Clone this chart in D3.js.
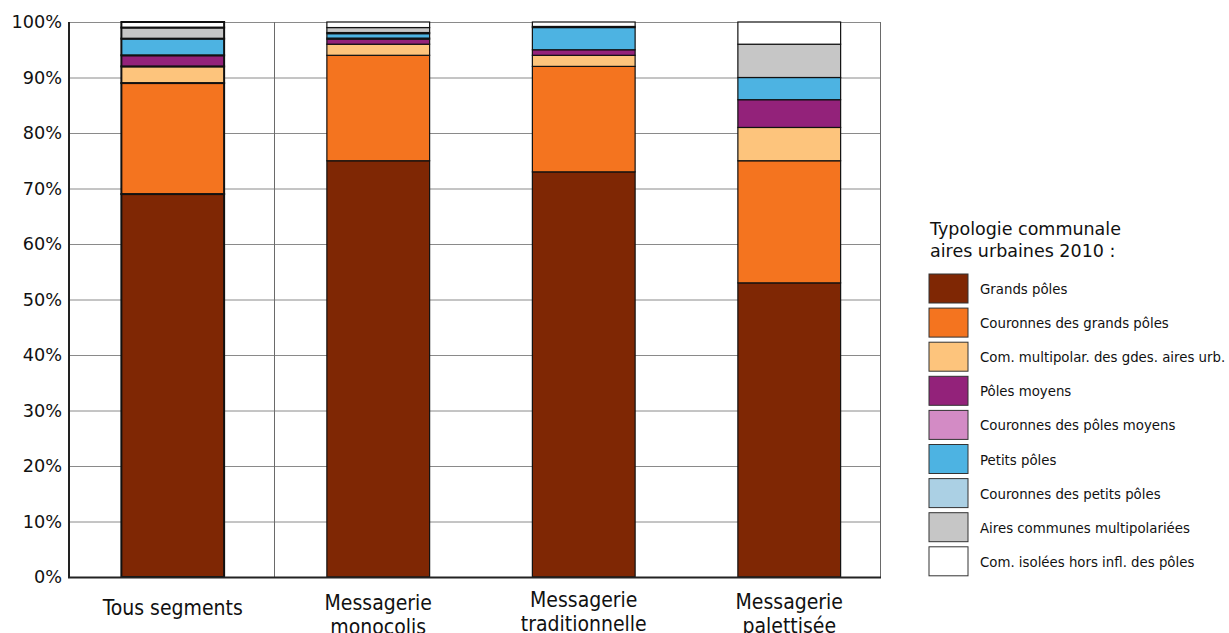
<!DOCTYPE html>
<html>
<head>
<meta charset="utf-8">
<script src="https://cdn.jsdelivr.net/npm/d3@7"></script>
<style>
  body { margin: 0; background: #fff; }
  svg { display: block; }
</style>
</head>
<body>
<div id="chart"></div>
<script>
//~~~~~~~~~~~~~~~~~~DATA
let segments = [['Tous segments'], ['Messagerie', 'monocolis'], ['Messagerie', 'traditionnelle'], ['Messagerie', 'palettisée']];

let types = ['Grands pôles', 'Couronnes des grands pôles', 'Com. multipolar. des gdes. aires urb.',
  'Pôles moyens', 'Couronnes des pôles moyens', 'Petits pôles', 'Couronnes des petits pôles',
  'Aires communes multipolariées', 'Com. isolées hors infl. des pôles'];

let typeColors = ['#7f2704', '#f4741f', '#fdc47c', '#93227a', '#d38bc5', '#4db3e2', '#abd0e4', '#c6c6c6', '#ffffff'];

//share (%) of each type, one array per segment, same order as types
let tousSegments = [69, 20, 3, 2, 0, 3, 0, 2, 1];
let monocolis = [75, 19, 2, 0.9, 0.2, 0.8, 0.2, 0.9, 1];
let traditionnelle = [73, 19, 2, 1, 0, 4, 0, 0.2, 0.8];
let palettisee = [53, 22, 6, 5, 0, 4, 0, 6, 4];

let yTicks = [0, 10, 20, 30, 40, 50, 60, 70, 80, 90, 100];

//~~~~~~~~~~~~~~~~~~SETUP
let width = 1229;
let height = 633;
let plotLeft = 69, plotRight = 880, plotTop = 22, plotBottom = 577;

let svg = d3.select('#chart').append('svg')
  .attr('width', width)
  .attr('height', height);

let x = d3.scaleBand()
  .domain(d3.range(segments.length))
  .range([70, 892])
  .paddingInner(0.5)
  .paddingOuter(0.25);

let y = d3.scaleLinear().domain([0, 100]).range([plotBottom, plotTop]);

//table for the stack
let rows = [tousSegments, monocolis, traditionnelle, palettisee].map(function(vals, i) {
  let r = { i: i };
  types.forEach(function(t, k) { r[t] = vals[k]; });
  return r;
});
let series = d3.stack().keys(types)(rows);

//~~~~~~~~~~~~~~~~~~GRID
svg.append('g')
  .selectAll('line')
  .data(yTicks)
  .enter().append('line')
  .attr('x1', plotLeft).attr('x2', plotRight)
  .attr('y1', function(d) { return y(d) + 0.5; })
  .attr('y2', function(d) { return y(d) + 0.5; })
  .attr('stroke', '#8a8a8a')
  .attr('stroke-width', 1);

//vertical grid lines
[274.5, plotRight + 0.5].forEach(function(px) {
  svg.append('line')
    .attr('x1', px).attr('x2', px)
    .attr('y1', plotTop).attr('y2', plotBottom)
    .attr('stroke', '#6a6a6a')
    .attr('stroke-width', 1);
});

//~~~~~~~~~~~~~~~~~~BARS
svg.append('g')
  .selectAll('g')
  .data(series)
  .enter().append('g')
  .attr('fill', function(d, k) { return typeColors[k]; })
  .selectAll('rect')
  .data(function(d) { return d.filter(function(p) { return p[1] - p[0] > 0; }); })
  .enter().append('rect')
  .attr('x', function(d) { return x(d.data.i); })
  .attr('y', function(d) { return y(d[1]); })
  .attr('width', x.bandwidth())
  .attr('height', function(d) { return y(d[0]) - y(d[1]); })
  .attr('stroke', '#111')
  .attr('stroke-width', function(d) { return d.data.i === 0 ? 2 : 1.2; });

//~~~~~~~~~~~~~~~~~~AXES
let yAxis = svg.append('g')
  .attr('transform', 'translate(' + plotLeft + ',0)')
  .call(d3.axisLeft(y).tickValues(yTicks).tickSize(0).tickPadding(7)
    .tickFormat(function(d) { return d + '%'; }));
yAxis.select('.domain').remove();
yAxis.selectAll('text')
  .attr('font-family', 'DejaVu Sans')
  .attr('font-size', 17.7)
  .attr('fill', '#111');

svg.append('line')
  .attr('x1', plotLeft).attr('x2', plotLeft)
  .attr('y1', plotTop).attr('y2', plotBottom + 1)
  .attr('stroke', '#222').attr('stroke-width', 2);
svg.append('line')
  .attr('x1', plotLeft - 1).attr('x2', plotRight + 1)
  .attr('y1', plotBottom + 0.5).attr('y2', plotBottom + 0.5)
  .attr('stroke', '#222').attr('stroke-width', 2);

//category labels
let labelY = [609, 604, 601, 603];
svg.append('g')
  .selectAll('text')
  .data(segments)
  .enter().append('text')
  .attr('x', function(d, i) { return x(i) + x.bandwidth() / 2; })
  .attr('y', function(d, i) { return labelY[i]; })
  .attr('text-anchor', 'middle')
  .attr('font-family', 'DejaVu Sans Condensed, DejaVu Sans')
  .attr('font-size', 21)
  .attr('fill', '#111')
  .selectAll('tspan')
  .data(function(d) { return d; })
  .enter().append('tspan')
  .attr('x', function() { return this.parentNode.getAttribute('x'); })
  .attr('dy', function(d, j) { return j === 0 ? 6 : 24; })
  .text(function(d) { return d; });

//~~~~~~~~~~~~~~~~~~LEGEND
svg.append('text')
  .attr('x', 930).attr('y', 235)
  .attr('font-family', 'DejaVu Sans')
  .attr('font-size', 17.5)
  .attr('fill', '#111')
  .text('Typologie communale');
svg.append('text')
  .attr('x', 930).attr('y', 257)
  .attr('font-family', 'DejaVu Sans')
  .attr('font-size', 17.5)
  .attr('fill', '#111')
  .text('aires urbaines 2010 :');

let legend = svg.selectAll('.legend')
  .data(types)
  .enter().append('g')
  .attr('class', 'legend')
  .attr('transform', function(d, i) { return 'translate(929,' + (274 + i * 34.1) + ')'; });

legend.append('rect')
  .attr('width', 39)
  .attr('height', 29)
  .attr('fill', function(d, i) { return typeColors[i]; })
  .attr('stroke', '#333')
  .attr('stroke-width', 1);

legend.append('text')
  .attr('x', 51)
  .attr('y', 20)
  .attr('font-family', 'DejaVu Sans Condensed, DejaVu Sans')
  .attr('font-size', 14.8)
  .attr('fill', '#111')
  .text(function(d) { return d; });
</script>
</body>
</html>
